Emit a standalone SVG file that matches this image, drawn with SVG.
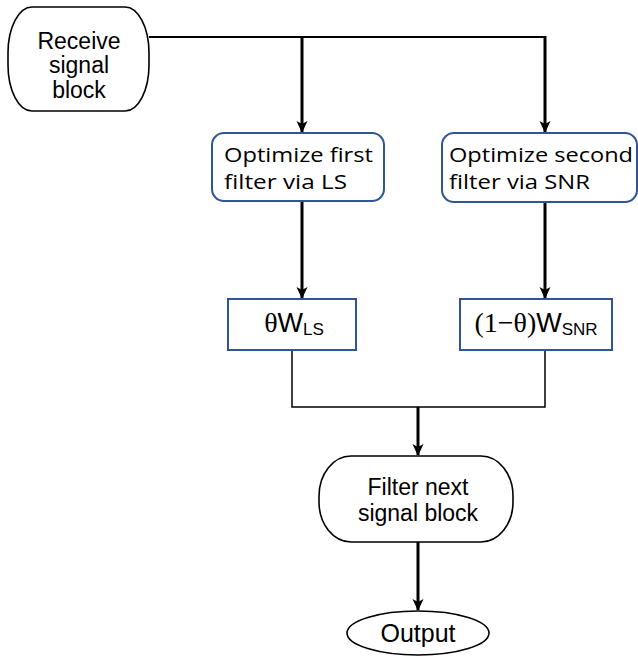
<svg xmlns="http://www.w3.org/2000/svg" width="638" height="657" viewBox="0 0 638 657">
<defs>
<style>
.term{fill:#fff;stroke:#000;stroke-width:1.6}
.opt{fill:#fff;stroke:#2F5597;stroke-width:2}
.sans{font-family:"Liberation Sans",Arial,sans-serif;font-size:23px;fill:#000}
.cal{font-family:"Open Sans","Noto Sans",sans-serif;font-size:20px;fill:#000}
.ser{font-family:"Liberation Serif","Times New Roman",serif;font-size:28px;fill:#000}
.w{font-family:"Liberation Sans",Arial,sans-serif;font-size:27px;fill:#000}
.sub{font-family:"Liberation Sans",Arial,sans-serif;font-size:17px;fill:#000}
.thick{fill:none;stroke:#000;stroke-width:3}
.med{fill:none;stroke:#000;stroke-width:2}
.thin{fill:none;stroke:#000;stroke-width:1.5}
</style>
<marker id="ah" markerWidth="12" markerHeight="12" viewBox="0 0 12 12" refX="11" refY="6" orient="auto" markerUnits="userSpaceOnUse">
<path d="M0,0.5 L12,6 L0,11.5 L3,6 Z" fill="#000"/>
</marker>
</defs>
<rect width="638" height="657" fill="#fff"/>
<g id="connectors">
<path class="med" d="M149,37 H545"/>
<path class="thick" d="M302,37 V132" marker-end="url(#ah)"/>
<path class="thick" d="M545,36 V132" marker-end="url(#ah)"/>
<path class="thick" d="M302,202 V298" marker-end="url(#ah)"/>
<path class="thick" d="M545,202 V298" marker-end="url(#ah)"/>
<path class="thin" d="M292,350 V407 H545 V350"/>
<path class="thick" d="M418,407 V455" marker-end="url(#ah)"/>
<path class="thick" d="M418,542 V610" marker-end="url(#ah)"/>
</g>
<g id="receive">
<rect class="term" x="8" y="7" width="141" height="104" rx="24" ry="46"/>
<text class="sans" text-anchor="middle"><tspan x="79" y="49">Receive</tspan><tspan x="79" y="73">signal</tspan><tspan x="79" y="98">block</tspan></text>
</g>
<g id="opt1">
<rect class="opt" x="212" y="133" width="172" height="68" rx="12"/>
<text class="cal" x="224" y="162" textLength="149" lengthAdjust="spacingAndGlyphs">Optimize first</text>
<text class="cal" x="224" y="189" textLength="123" lengthAdjust="spacingAndGlyphs">filter via LS</text>
</g>
<g id="opt2">
<rect class="opt" x="442" y="133" width="195" height="69" rx="12"/>
<text class="cal" x="449" y="162" textLength="184" lengthAdjust="spacingAndGlyphs">Optimize second</text>
<text class="cal" x="449" y="189" textLength="141" lengthAdjust="spacingAndGlyphs">filter via SNR</text>
</g>
<g id="wls">
<rect class="opt" x="228" y="299" width="128" height="51"/>
<text x="294" y="332" text-anchor="middle"><tspan class="ser">θ</tspan><tspan class="w">W</tspan><tspan class="sub" dy="3">LS</tspan></text>
</g>
<g id="wsnr">
<rect class="opt" x="460" y="299" width="152" height="51"/>
<text x="536" y="332" text-anchor="middle"><tspan class="ser">(1−θ)</tspan><tspan class="w">W</tspan><tspan class="sub" dy="3">SNR</tspan></text>
</g>
<g id="filter">
<rect class="term" x="319" y="456" width="194" height="86" rx="32" ry="40"/>
<text class="sans" text-anchor="middle"><tspan x="418" y="495">Filter next</tspan><tspan x="418" y="521">signal block</tspan></text>
</g>
<g id="output">
<ellipse class="term" cx="418" cy="633" rx="71" ry="22"/>
<text class="sans" text-anchor="middle" x="418" y="642" style="font-size:25px">Output</text>
</g>
</svg>
